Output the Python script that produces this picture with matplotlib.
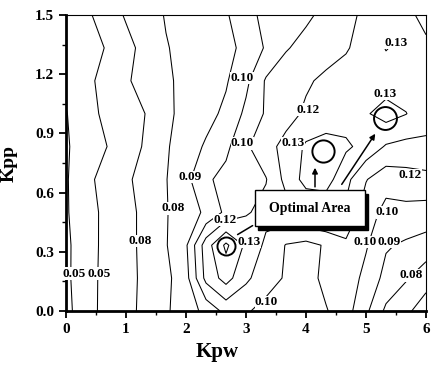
import numpy as np
import matplotlib
matplotlib.use("Agg")
import matplotlib.pyplot as plt
from matplotlib.patches import Rectangle

plt.rcParams['font.family'] = ['Liberation Serif', 'DejaVu Serif']
plt.rcParams['font.weight'] = 'bold'

# grid of the response surface (Kpw across, Kpp up)
kpw = np.linspace(0, 6, 19)
kpp = np.linspace(0, 1.5, 10)

# values, one row per Kpp value (bottom to top), x 1e-3
z_rows = [
    [47, 56.4, 62.7, 67.3, 72.5, 78.8, 84.7, 93, 103, 101, 97, 96, 97, 99.5, 104, 92, 78, 72, 65],
    [48, 56.3, 62.6, 67.2, 72.1, 77.5, 86.4, 113, 124, 112, 104, 99, 97, 102, 106, 97, 87, 81, 74],
    [48, 56, 62.4, 67.1, 72.6, 79.4, 88.6, 115.3, 132, 118, 108, 99.5, 97, 101, 108, 101, 91, 88.5, 86],
    [49, 56.1, 62.3, 67.1, 72.6, 79.4, 85.2, 91.7, 102.3, 109, 113, 116, 121, 123, 118, 105, 97, 97, 96],
    [49, 57.4, 63.5, 68.3, 73.8, 79.6, 87.3, 98.4, 103, 106.3, 109.5, 123, 133.5, 134, 123, 110.5, 104, 106, 107],
    [49, 54.3, 59.7, 65.3, 71.3, 78.9, 85.1, 91.2, 97.7, 108.5, 116.6, 123, 131.5, 134, 131.5, 127, 119, 117, 118],
    [49.5, 56.5, 62, 66.1, 70.2, 78, 82.9, 86.8, 92.1, 102.2, 111.2, 116.5, 121.5, 124, 126, 129, 134, 130.3, 124],
    [52, 57.5, 63.2, 68.8, 73.7, 78.6, 82.3, 85.6, 89, 97.7, 111.1, 115, 118.7, 122, 124, 126, 125, 125, 126],
    [52, 56, 60.4, 67, 73.3, 79.5, 82.4, 85.1, 87.9, 92, 101.2, 109.3, 112.8, 115.9, 119.1, 124, 130.5, 127, 129],
    [52, 58, 64.6, 71, 76, 80.6, 83.3, 86, 88.8, 97.2, 102.3, 105.4, 108.4, 112.3, 117.7, 121.8, 125.2, 128.7, 131.5],
]
z = np.array(z_rows) / 1000.0

levels = [0.05, 0.06, 0.07, 0.08, 0.09, 0.10, 0.11, 0.12, 0.13]

# contour labels as printed on the map
label_text = ["0.05", "0.05", "0.08", "0.08", "0.09", "0.10", "0.10", "0.12", "0.13",
              "0.13", "0.13", "0.12", "0.12", "0.13", "0.10", "0.10", "0.10", "0.09", "0.08"]
label_pos = [(0.14, 0.19), (0.55, 0.19), (1.23, 0.355), (1.79, 0.52), (2.07, 0.68),
             (2.93, 1.18), (2.94, 0.85), (4.03, 1.02), (3.78, 0.85), (5.5, 1.36),
             (5.32, 1.1), (5.73, 0.69), (2.65, 0.46), (3.05, 0.35), (3.34, 0.046),
             (5.36, 0.50), (4.98, 0.35), (5.39, 0.35), (5.76, 0.18)]

# circled optimum points
optimal_kpw = [2.67, 4.28, 5.32]
optimal_kpp = [0.33, 0.81, 0.98]
circle_size = [13, 16, 16.5]

fig = plt.figure(figsize=(4.32, 3.66), dpi=100)
ax = fig.add_axes([66 / 432, 55 / 366, 360 / 432, 296 / 366])

ax.contour(kpw, kpp, z, levels=levels, colors='k', linewidths=0.75)

for txt, (x, y) in zip(label_text, label_pos):
    ax.text(x, y, txt, fontsize=9.5, fontweight='bold', ha='center', va='center',
            bbox=dict(facecolor='white', edgecolor='none', pad=0.2), zorder=4)

for x, y, s in zip(optimal_kpw, optimal_kpp, circle_size):
    ax.plot(x, y, 'o', ms=s, mfc='none', mec='k', mew=1.4, zorder=5)

# "Optimal Area" callout with drop shadow
ax.add_patch(Rectangle((3.2, 0.412), 1.83, 0.183, facecolor='k', edgecolor='k', zorder=6))
ax.add_patch(Rectangle((3.15, 0.43), 1.83, 0.183, facecolor='white', edgecolor='k', lw=1, zorder=7))
ax.text(4.065, 0.52, "Optimal Area", fontsize=10, fontweight='bold', ha='center', va='center', zorder=8)

arrow = dict(arrowstyle='-|>', color='k', lw=1.1, mutation_scale=8)
ax.annotate('', xy=(4.15, 0.74), xytext=(4.15, 0.615), arrowprops=arrow, zorder=8)
ax.annotate('', xy=(5.18, 0.91), xytext=(4.57, 0.63), arrowprops=arrow, zorder=8)
ax.annotate('', xy=(2.82, 0.38), xytext=(3.15, 0.44),
            arrowprops=dict(arrowstyle='-', color='k', lw=1.1), zorder=8)

ax.set_xlim(0, 6)
ax.set_ylim(0, 1.5)
ax.set_xticks(range(7))
ax.set_xticks(np.arange(0.5, 6, 1), minor=True)
ax.set_yticks([0.0, 0.3, 0.6, 0.9, 1.2, 1.5])
ax.set_yticklabels(["0.0", "0.3", "0.6", "0.9", "1.2", "1.5"])
ax.set_yticks([0.15, 0.45, 0.75, 1.05, 1.35], minor=True)
ax.tick_params(which='major', direction='out', length=5, width=1.3, labelsize=11)
ax.tick_params(which='minor', direction='out', length=3, width=1)
for lab in ax.get_xticklabels() + ax.get_yticklabels():
    lab.set_fontweight('bold')

for side in ['left', 'bottom']:
    ax.spines[side].set_linewidth(2)
for side in ['top', 'right']:
    ax.spines[side].set_linewidth(0.8)

ax.set_xlabel("Kpw", fontsize=15, fontweight='bold')
ax.set_ylabel("Kpp", fontsize=14, fontweight='bold')
ax.xaxis.set_label_coords(0.42, -0.105)
ax.yaxis.set_label_coords(-0.135, 0.5)

fig.savefig("out.png", dpi=100)
